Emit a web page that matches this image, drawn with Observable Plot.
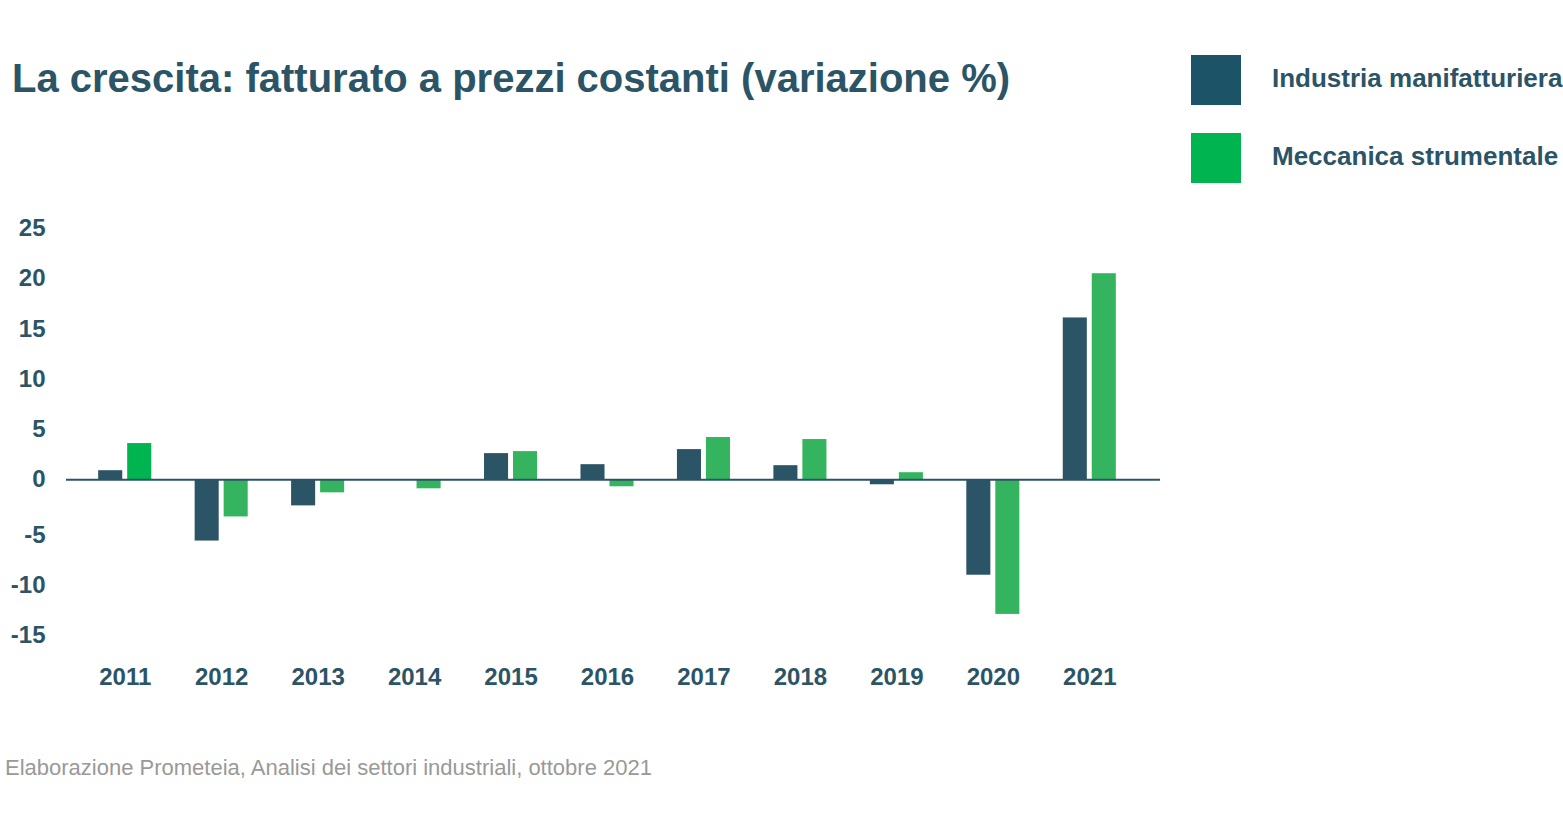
<!DOCTYPE html>
<html>
<head>
<meta charset="utf-8">
<script src="https://cdn.jsdelivr.net/npm/d3@7"></script>
<script src="https://cdn.jsdelivr.net/npm/@observablehq/plot@0.6"></script>
<style>
  html, body { margin: 0; padding: 0; background: #fff; }
  body { width: 1563px; height: 822px; position: relative; overflow: hidden; font-family: "Liberation Sans", Arial, sans-serif; }
  #title { position: absolute; left: 12px; top: 58px; font-size: 40px; line-height: 40px; font-weight: bold; color: #2b5566; white-space: nowrap; }
  #legend { position: absolute; left: 1191px; top: 55px; }
  .item { display: flex; align-items: center; height: 50px; margin-bottom: 28px; }
  .sw { width: 50px; height: 50px; margin-right: 31px; }
  .lab { font-size: 26px; line-height: 26px; font-weight: bold; color: #2b5566; white-space: nowrap; margin-top: -4px; }
  #chart { position: absolute; left: 0; top: 200px; }
  #caption { position: absolute; left: 5px; top: 757px; font-size: 22px; line-height: 22px; color: #999; white-space: nowrap; }
</style>
</head>
<body>
<div id="title"></div>
<div id="legend"></div>
<div id="chart"></div>
<div id="caption"></div>
<script>
const titleText = "La crescita: fatturato a prezzi costanti (variazione %)";
const captionText = "Elaborazione Prometeia, Analisi dei settori industriali, ottobre 2021";
const years = ["2011","2012","2013","2014","2015","2016","2017","2018","2019","2020","2021"];
const seriesNames = ["Industria manifatturiera", "Meccanica strumentale"];
const industria = [0.9, -6.1, -2.6, 0, 2.6, 1.5, 3.0, 1.4, -0.5, -9.5, 16.1];
const meccanica = [3.6, -3.7, -1.3, -0.9, 2.8, -0.7, 4.2, 4.0, 0.7, -13.4, 20.5];
const yTicksPos = [0, 5, 10, 15, 20, 25];
const yTicksNeg = [-15, -10, -5];

const colDark = "#2b5566";
const colGreen = "#34b45e";
const legendColors = ["#1d5366", "#00b450"];
const textColor = "#2b5566";

document.getElementById("title").textContent = titleText;
document.getElementById("caption").textContent = captionText;
const legend = document.getElementById("legend");
seriesNames.forEach((s, i) => {
  const it = document.createElement("div"); it.className = "item";
  const sw = document.createElement("div"); sw.className = "sw"; sw.style.background = legendColors[i];
  const lb = document.createElement("div"); lb.className = "lab"; lb.textContent = s;
  it.appendChild(sw); it.appendChild(lb); legend.appendChild(it);
});

const dataA = years.map((y, i) => ({year: y, value: industria[i], series: seriesNames[0]}));
const dataB = years.map((y, i) => ({year: y, value: meccanica[i], series: seriesNames[1]}));

const axisStyle = { tickFormat: d => String(d), tickSize: 0, tickPadding: 21, fontSize: 24, fontWeight: "bold", fill: textColor, label: null };

const chart = Plot.plot({
  width: 1563,
  height: 500,
  marginLeft: 66,
  marginRight: 403,
  marginTop: 28,
  marginBottom: 70,
  style: { fontFamily: "Liberation Sans, Arial, sans-serif", color: textColor, background: "transparent" },
  x: { domain: years, round: false, paddingInner: 0.45, paddingOuter: 0.23, insetLeft: 10, insetRight: 22, label: null },
  y: { domain: [-15, 25], label: null },
  marks: [
    Plot.axisY({ ticks: yTicksPos, ...axisStyle }),
    Plot.axisY({ ticks: yTicksNeg, dy: 5, ...axisStyle }),
    Plot.axisX({ tickSize: 0, tickPadding: 37, fontSize: 24, fontWeight: "bold", fill: textColor, label: null }),
    Plot.barY(dataA, { x: "year", y: "value", fill: colDark, insetRight: 29, insetLeft: 0 }),
    Plot.barY(dataB, { x: "year", y: "value", fill: d => d.year === "2011" ? "#00b450" : colGreen, insetLeft: 29, insetRight: 0 }),
    Plot.ruleY([0], { stroke: colDark, strokeWidth: 2 })
  ]
});
document.getElementById("chart").appendChild(chart);
</script>
</body>
</html>
